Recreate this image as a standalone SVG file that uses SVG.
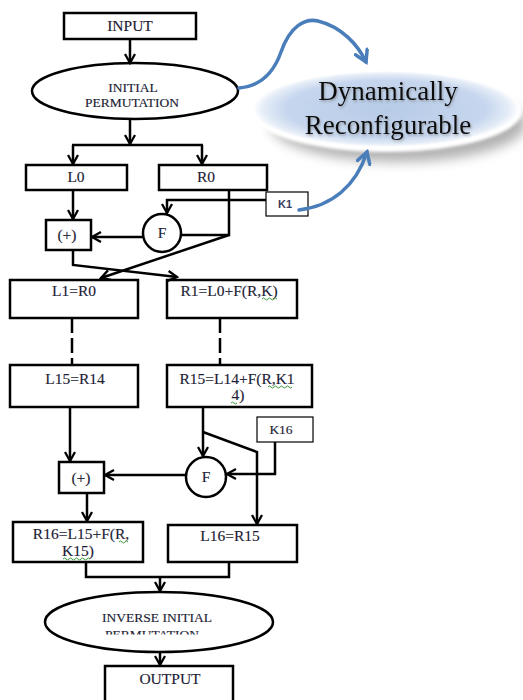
<svg xmlns="http://www.w3.org/2000/svg" width="523" height="700" viewBox="0 0 523 700">
  <defs>
    <style>
      .box { fill: #ffffff; stroke: #000000; stroke-width: 2.5; }
      .kbox { fill: #ffffff; stroke: #000000; stroke-width: 1.2; }
      .lbl { font-family: "Liberation Serif", "Times New Roman", serif; font-size: 15.5px; fill: #1c1c34; text-anchor: middle; stroke: #1c1c34; stroke-width: 0.15; }
      .sm { font-size: 13.5px; }
      .ksans { font-family: "Liberation Sans", Arial, sans-serif; font-size: 11px; font-weight: bold; fill: #3a3a60; text-anchor: middle; }
      .wire { fill: none; stroke: #000000; stroke-width: 2.5; }
      .arr { marker-end: url(#head); }
      .dash { stroke-dasharray: 15 5; }
      .blue { fill: none; stroke: #4a7ebb; stroke-width: 3.5; stroke-linecap: round; marker-end: url(#bhead); }
      .squig { fill: none; stroke: #3a9a3a; stroke-width: 1; }
      .big { font-family: "Liberation Serif", "Times New Roman", serif; font-size: 27px; fill: #0a0a0a; text-anchor: middle; }
    </style>
    <marker id="head" viewBox="0 0 12 12" refX="10" refY="6" markerWidth="12" markerHeight="12" markerUnits="userSpaceOnUse" orient="auto">
      <path d="M1,1 L10,6 L1,11" fill="none" stroke="#000" stroke-width="2.3"/>
    </marker>
    <marker id="bhead" viewBox="0 0 16 16" refX="13" refY="8" markerWidth="16" markerHeight="16" markerUnits="userSpaceOnUse" orient="auto">
      <path d="M2,1.5 L13,8 L2,14.5" fill="none" stroke="#4a7ebb" stroke-width="3.5" stroke-linecap="round"/>
    </marker>
    <radialGradient id="lens" cx="0.5" cy="0.5" r="0.5">
      <stop offset="0" stop-color="#b7cbe7"/>
      <stop offset="0.75" stop-color="#c6d6ee"/>
      <stop offset="0.92" stop-color="#e4ecf7"/>
      <stop offset="1" stop-color="#ffffff"/>
    </radialGradient>
    <filter id="soft" x="-20%" y="-50%" width="140%" height="200%">
      <feGaussianBlur stdDeviation="6"/>
    </filter>
    <filter id="rim" x="-10%" y="-30%" width="120%" height="160%">
      <feGaussianBlur stdDeviation="1.5"/>
    </filter>
    <filter id="tshadow" x="-10%" y="-30%" width="120%" height="160%">
      <feDropShadow dx="1" dy="1.5" stdDeviation="1" flood-color="#555" flood-opacity="0.45"/>
    </filter>
    <clipPath id="clipPerm">
      <rect x="40" y="590" width="240" height="44.5"/>
    </clipPath>
  </defs>

  <!-- Dynamically reconfigurable callout -->
  <g id="reconfig">
    <ellipse cx="398" cy="124" rx="128" ry="38" fill="#7f7f7f" opacity="0.6" filter="url(#soft)"/>
    <ellipse cx="386" cy="111" rx="136" ry="41" fill="#ffffff" filter="url(#rim)"/>
    <ellipse cx="386" cy="109" rx="133" ry="38" fill="url(#lens)"/>
    <g filter="url(#tshadow)">
      <text class="big" x="388" y="100">Dynamically</text>
      <text class="big" x="388" y="134">Reconfigurable</text>
    </g>
  </g>

  <!-- nodes -->
  <g id="input">
    <rect class="box" x="64" y="13" width="132" height="26"/>
    <text class="lbl" x="130" y="31">INPUT</text>
  </g>
  <g id="initial-permutation">
    <ellipse class="box" cx="135" cy="91" rx="103" ry="28"/>
    <text class="lbl sm" x="133" y="92">INITIAL</text>
    <text class="lbl sm" x="132" y="107">PERMUTATION</text>
  </g>
  <g id="l0">
    <rect class="box" x="26" y="165" width="101" height="25"/>
    <text class="lbl" x="76" y="182">L0</text>
  </g>
  <g id="r0">
    <rect class="box" x="159" y="165" width="108" height="25"/>
    <text class="lbl" x="206" y="182">R0</text>
  </g>
  <g id="k1">
    <rect class="kbox" x="266" y="192" width="42" height="24"/>
    <text class="ksans" x="285" y="208">K1</text>
  </g>
  <g id="xor1">
    <rect class="box" x="46" y="220" width="45" height="30"/>
    <text class="lbl" x="67" y="240">(+)</text>
  </g>
  <g id="f1">
    <circle class="box" cx="162" cy="233" r="19"/>
    <text class="lbl" x="162" y="238">F</text>
  </g>
  <g id="l1">
    <rect class="box" x="10" y="280" width="128" height="38"/>
    <text class="lbl" x="74" y="296">L1=R0</text>
  </g>
  <g id="r1">
    <rect class="box" x="167" y="280" width="130" height="38"/>
    <text class="lbl" x="229" y="296">R1=L0+F(R,K)</text>
    <path class="squig" d="M262,299 q1.5,-2 3,0 t3,0 t3,0 t3,0 t3,0"/>
  </g>
  <g id="l15">
    <rect class="box" x="10" y="365" width="128" height="42"/>
    <text class="lbl" x="75" y="384">L15=R14</text>
  </g>
  <g id="r15">
    <rect class="box" x="167" y="365" width="145" height="42"/>
    <text class="lbl" x="237" y="384">R15=L14+F(R,K1</text>
    <text class="lbl" x="238" y="400">4)</text>
    <path class="squig" d="M268,387 q1.5,-2 3,0 t3,0 t3,0 t3,0 t3,0 t3,0 t3,0 t3,0"/>
    <path class="squig" d="M231,403 q1.5,-2 3,0 t3,0"/>
  </g>
  <g id="k16">
    <rect class="kbox" x="257" y="417" width="56" height="25"/>
    <text class="lbl sm" x="281" y="434">K16</text>
  </g>
  <g id="xor16">
    <rect class="box" x="59" y="462" width="45" height="31"/>
    <text class="lbl" x="81" y="483">(+)</text>
  </g>
  <g id="f16">
    <circle class="box" cx="206" cy="477" r="20"/>
    <text class="lbl" x="206" y="482">F</text>
  </g>
  <g id="r16">
    <rect class="box" x="13" y="522" width="130" height="40"/>
    <text class="lbl" x="81" y="539">R16=L15+F(R,</text>
    <text class="lbl" x="78" y="556">K15)</text>
    <path class="squig" d="M119,542 q1.5,-2 3,0 t3,0 t3,0"/>
    <path class="squig" d="M63,559 q1.5,-2 3,0 t3,0 t3,0 t3,0 t3,0 t3,0 t3,0 t3,0 t3,0"/>
  </g>
  <g id="l16">
    <rect class="box" x="168" y="525" width="129" height="37"/>
    <text class="lbl" x="230" y="541">L16=R15</text>
  </g>
  <g id="inverse-permutation">
    <ellipse class="box" cx="159" cy="622" rx="114" ry="30"/>
    <text class="lbl sm" x="157" y="622">INVERSE INITIAL</text>
    <text class="lbl sm" x="152" y="639" clip-path="url(#clipPerm)">PERMUTATION</text>
  </g>
  <g id="output">
    <rect class="box" x="105" y="666" width="128" height="40"/>
    <text class="lbl" x="170" y="684">OUTPUT</text>
  </g>

  <!-- connectors -->
  <g id="connectors">
    <path class="wire arr" d="M130,39 V63"/>
    <path class="wire arr" d="M130,120 V144"/>
    <path class="wire" d="M72,145 H203"/>
    <path class="wire arr" d="M73,145 V164"/>
    <path class="wire arr" d="M202,145 V164"/>
    <path class="wire arr" d="M73,190 V219"/>
    <path class="wire" d="M229,190 V235 H181"/>
    <path class="wire arr" d="M266,200 H167 V213"/>
    <path class="wire arr" d="M143,237 H92"/>
    <path class="wire arr" d="M229,235 L101,278"/>
    <path class="wire arr" d="M73,250 V265 L177,277"/>
    <path class="wire dash" d="M72,318 V365"/>
    <path class="wire dash" d="M220,318 V365"/>
    <path class="wire arr" d="M70,407 V461"/>
    <path class="wire arr" d="M203,407 V456"/>
    <path class="wire arr" d="M203,432 L257,452 V524"/>
    <path class="wire arr" d="M275,442 V474 H227"/>
    <path class="wire arr" d="M186,475 H105"/>
    <path class="wire arr" d="M87,493 V521"/>
    <path class="wire" d="M86,562 V577 H229 V562"/>
    <path class="wire arr" d="M160,577 V591"/>
    <path class="wire arr" d="M160,652 V665"/>
    <path class="blue" d="M239,88 C262,86 274,72 281,52 C290,26 305,18 318,21 C342,27 358,45 366,62"/>
    <path class="blue" d="M299,210 C332,206 356,186 367,152"/>
  </g>
</svg>
